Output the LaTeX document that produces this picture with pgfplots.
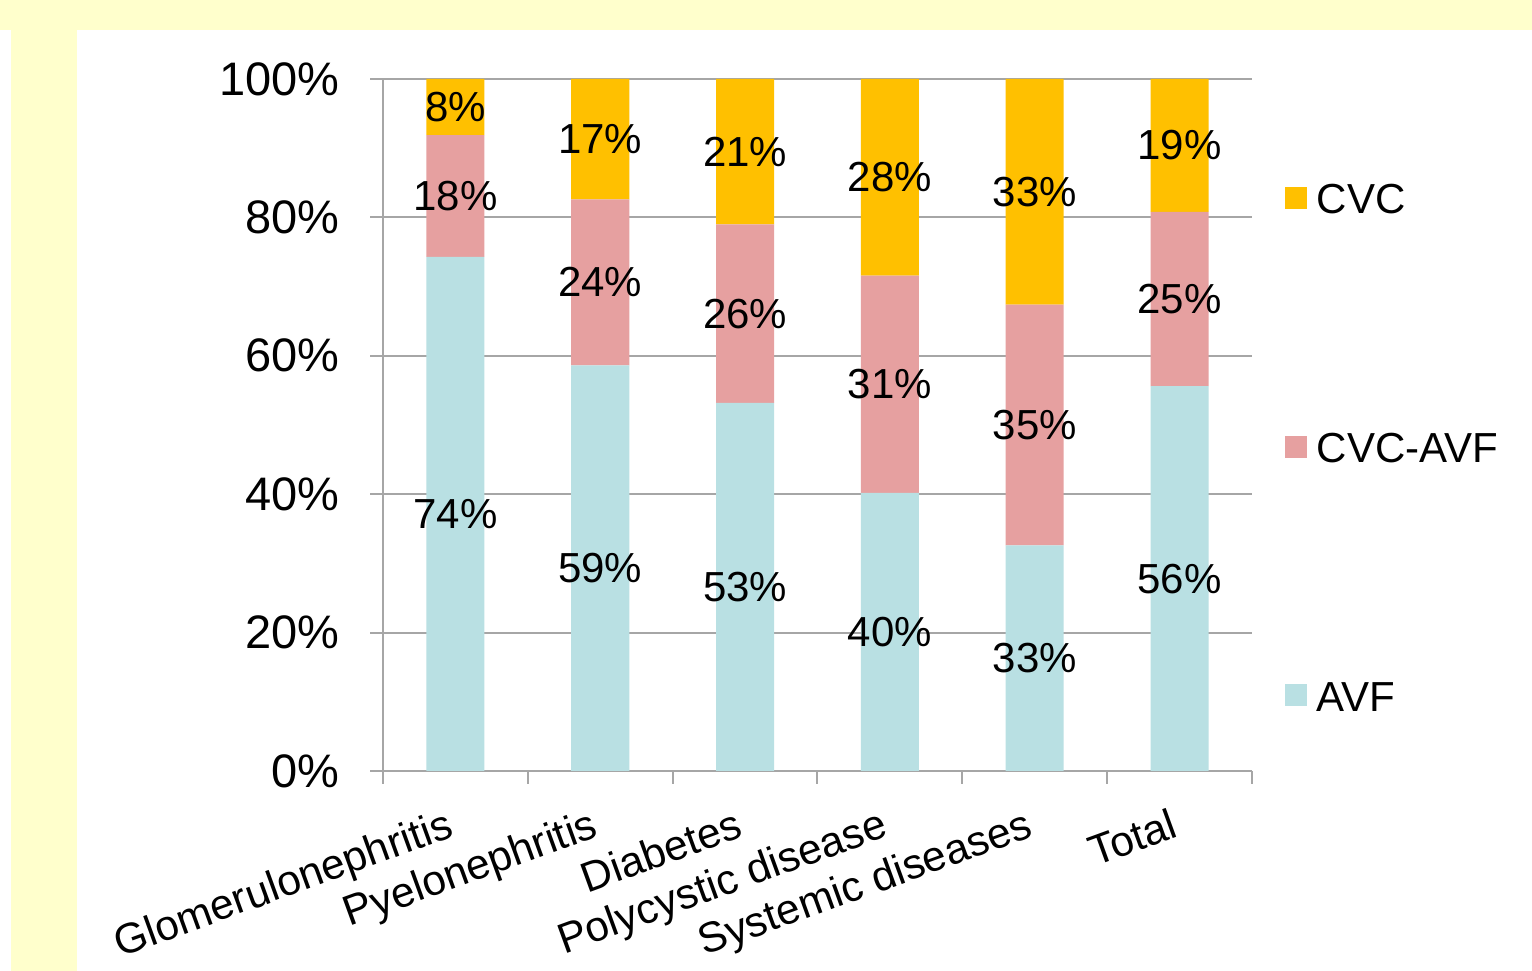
\documentclass[border=0pt]{standalone}
\usepackage{pgfplots}
\pgfplotsset{compat=1.18}
\usepackage{pgfplotstable}
\usepackage{fontspec}
\setmainfont{Liberation Sans}
\definecolor{bgyellow}{HTML}{FFFFCC}
\definecolor{cvc}{HTML}{FFC000}
\definecolor{cvcavf}{HTML}{E6A0A0}
\definecolor{avf}{HTML}{B9E0E3}
\definecolor{axgray}{HTML}{A6A6A6}
\pgfplotstableread{
x avf cvcavf cvc lavf lcva lcvc
0 74.3 17.6 8.1 74 18 8
1 58.6 24.0 17.4 59 24 17
2 53.2 25.8 21.0 53 26 21
3 40.2 31.4 28.4 40 31 28
4 32.6 34.8 32.6 33 35 33
5 55.6 25.2 19.2 56 25 19
}\datatable
\begin{document}
\begin{tikzpicture}
\fill[bgyellow] (0,0) rectangle (383pt,242.75pt);
\fill[white] (19.25pt,0) rectangle (383pt,235.25pt);
\fill[white] (0,0) rectangle (2.75pt,235.25pt);
\begin{axis}[
  at={(95.75pt,50pt)}, anchor=south west,
  scale only axis, width=217.25pt, height=173pt,
  xmin=-0.5, xmax=5.5, ymin=0, ymax=100,
  ybar stacked, bar width=14.5pt,
  axis x line*=bottom, axis y line*=left,
  axis line style={draw=axgray, line width=0.5pt},
  ymajorgrids, grid style={draw=axgray, line width=0.5pt},
  tick align=outside, major tick length=3.2pt,
  tick style={draw=axgray, line width=0.5pt},
  xtick={-0.5,0.5,1.5,2.5,3.5,4.5,5.5},
  xticklabels={,,,,,,},
  extra x ticks={0,1,2,3,4,5},
  extra x tick labels={Glomerulonephritis,Pyelonephritis,Diabetes,Polycystic disease,Systemic diseases,Total},
  extra x tick style={major tick length=0pt, tick style={draw=none}},
  xticklabel style={font=\fontsize{10.6pt}{12pt}\selectfont, xshift=-2.6pt, yshift=-8.75pt, rotate=20, anchor=north east, inner sep=0pt},
  ytick={0,20,40,60,80,100},
  yticklabels={0\%,20\%,40\%,60\%,80\%,100\%},
  yticklabel style={font=\fontsize{11.75pt}{13pt}\selectfont, anchor=east, inner sep=0pt, xshift=-7.5pt},
  point meta=explicit symbolic,
  nodes near coords={\pgfplotspointmeta\%},
  every node near coord/.append style={font=\fontsize{10.5pt}{12pt}\selectfont, anchor=center, inner sep=0pt},
  clip=false,
  reverse legend,
  legend cell align=left,
  legend image code/.code={\fill[#1] (0pt,-1.6pt) rectangle (5.5pt,3.9pt);},
  legend style={draw=none, fill=none, at={(axis description cs:1,0.5)}, anchor=west, xshift=8pt, yshift=-6.5pt, inner sep=0pt, row sep=53.4pt, font=\fontsize{10.5pt}{12pt}\selectfont, nodes={inner sep=0pt}, /tikz/every odd column/.append style={column sep=2.5pt}},
]
\addplot[fill=avf, draw=none] table[x=x, y=avf, meta=lavf] {\datatable};
\addlegendentry{AVF}
\addplot[fill=cvcavf, draw=none] table[x=x, y=cvcavf, meta=lcva] {\datatable};
\addlegendentry{CVC-AVF}
\addplot[fill=cvc, draw=none] table[x=x, y=cvc, meta=lcvc] {\datatable};
\addlegendentry{CVC}
\end{axis}
\end{tikzpicture}
\end{document}
